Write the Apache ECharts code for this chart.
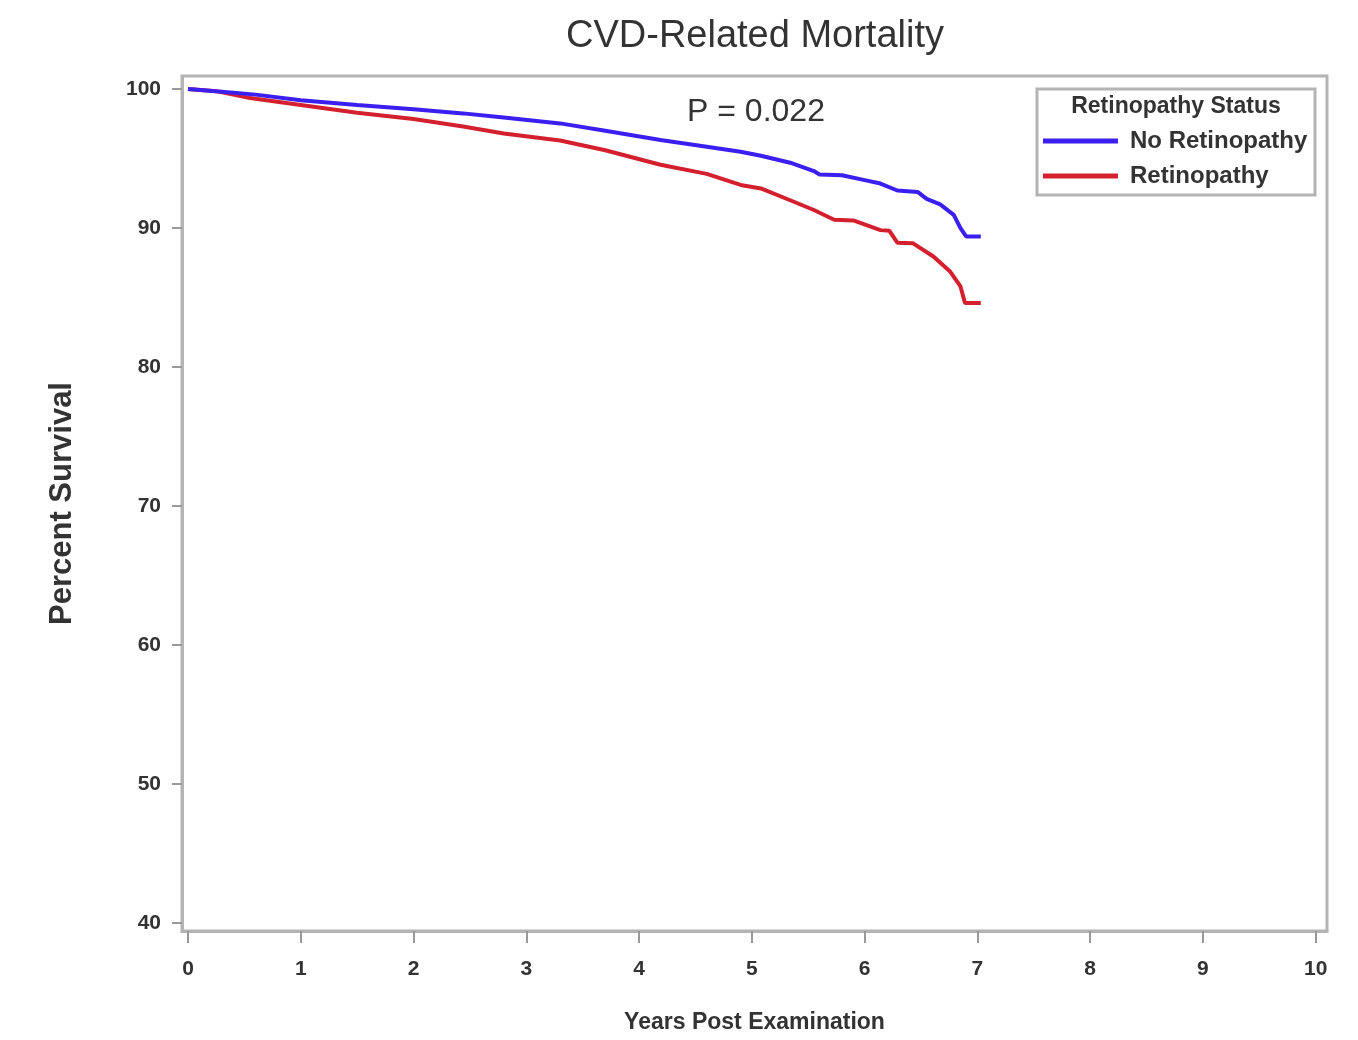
<!DOCTYPE html>
<html>
<head>
<meta charset="utf-8">
<title>CVD-Related Mortality</title>
<script src="https://cdn.jsdelivr.net/npm/echarts@6/dist/echarts.min.js"></script>
<style>
  html, body { margin: 0; padding: 0; background: #fff; }
  #chart { width: 1358px; height: 1040px; }
</style>
</head>
<body>
<div id="chart"></div>
<script>
// Kaplan-Meier survival estimates, CVD-related mortality
var xTicks = [0, 1, 2, 3, 4, 5, 6, 7, 8, 9, 10];
var yTicks = [40, 50, 60, 70, 80, 90, 100];

var noRetYears = [0, 0.3, 0.6, 1.0, 1.5, 2.0, 2.44, 2.8, 3.3, 3.7, 4.19, 4.6, 4.9, 5.08, 5.34, 5.55, 5.6, 5.8, 6.0, 6.14, 6.29, 6.47, 6.55, 6.67, 6.79, 6.85, 6.9, 7.03];
var noRetSurv  = [100, 99.8, 99.6, 99.2, 98.85, 98.55, 98.25, 97.95, 97.53, 97.0, 96.33, 95.85, 95.49, 95.2, 94.7, 94.1, 93.85, 93.8, 93.45, 93.2, 92.7, 92.6, 92.1, 91.7, 90.95, 90.0, 89.4, 89.4];

var retYears = [0, 0.25, 0.55, 1.0, 1.5, 2.0, 2.44, 2.8, 3.3, 3.7, 4.19, 4.6, 4.9, 5.08, 5.34, 5.55, 5.73, 5.9, 6.14, 6.22, 6.29, 6.43, 6.61, 6.76, 6.85, 6.89, 7.03];
var retSurv  = [100, 99.85, 99.35, 98.85, 98.3, 97.85, 97.3, 96.8, 96.3, 95.6, 94.55, 93.9, 93.1, 92.85, 92.0, 91.3, 90.6, 90.55, 89.85, 89.8, 88.95, 88.9, 87.95, 86.85, 85.8, 84.6, 84.6];

var pValueText = 'P = 0.022';

function pairs(xs, ys) {
  return xs.map(function (x, i) { return [x, ys[i]]; });
}

var FONT = '"Liberation Sans", Arial, sans-serif';
var FRAME = '#b4b4b4';
var TEXT = '#333';

var chart = echarts.init(document.getElementById('chart'));
chart.setOption({
  animation: false,
  backgroundColor: '#fff',
  graphic: [
    {
      type: 'text', z: 10,
      x: 755, y: 37,
      style: {
        text: 'CVD-Related Mortality', align: 'center', verticalAlign: 'middle',
        font: '38px ' + FONT, fill: TEXT
      }
    },
    {
      type: 'rect', z: 10,
      shape: { x: 1037, y: 89, width: 278, height: 106 },
      style: { fill: 'none', stroke: FRAME, lineWidth: 3 }
    },
    {
      type: 'text', z: 10,
      x: 1176, y: 107,
      style: {
        text: 'Retinopathy Status', align: 'center', verticalAlign: 'middle',
        font: 'bold 23px ' + FONT, fill: TEXT
      }
    },
    {
      type: 'text', z: 10,
      x: 756, y: 112,
      style: {
        text: pValueText, align: 'center', verticalAlign: 'middle',
        font: '32px ' + FONT, fill: TEXT
      }
    }
  ],
  grid: {
    left: 182, top: 76, right: 31, bottom: 109,
    show: true, borderColor: FRAME, borderWidth: 3, backgroundColor: '#fff'
  },
  xAxis: {
    type: 'value',
    min: -0.053, max: 10.1,
    name: 'Years Post Examination',
    nameLocation: 'middle',
    nameGap: 80,
    nameTextStyle: { fontFamily: FONT, fontSize: 23, fontWeight: 'bold', color: TEXT },
    axisLine: { show: true, onZero: false, lineStyle: { color: FRAME, width: 3 } },
    axisTick: { show: true, length: 12, customValues: xTicks, lineStyle: { color: '#999', width: 2 } },
    axisLabel: { customValues: xTicks, margin: 28, fontFamily: FONT, fontSize: 21, fontWeight: 'bold', color: TEXT },
    splitLine: { show: false }
  },
  yAxis: {
    type: 'value',
    min: 39.42, max: 100.94,
    name: 'Percent Survival',
    nameLocation: 'middle',
    nameGap: 104,
    nameTextStyle: { fontFamily: FONT, fontSize: 31, fontWeight: 'bold', color: TEXT },
    axisLine: { show: true, onZero: false, lineStyle: { color: FRAME, width: 3 } },
    axisTick: { show: true, length: 10, customValues: yTicks, lineStyle: { color: '#999', width: 2 } },
    axisLabel: { customValues: yTicks, margin: 21, fontFamily: FONT, fontSize: 21, fontWeight: 'bold', color: TEXT },
    splitLine: { show: false }
  },
  legend: {
    orient: 'vertical',
    left: 1043, top: 129,
    icon: 'rect',
    itemWidth: 75, itemHeight: 5,
    itemGap: 11,
    padding: 0,
    textStyle: { fontFamily: FONT, fontSize: 24, fontWeight: 'bold', color: TEXT, lineHeight: 24, padding: [0, 0, 0, 7] },
    data: ['No Retinopathy', 'Retinopathy']
  },
  series: [
    {
      name: 'No Retinopathy',
      type: 'line',
      data: pairs(noRetYears, noRetSurv),
      showSymbol: false,
      lineStyle: { color: '#3b1ff0', width: 4 },
      itemStyle: { color: '#3b1ff0' },
      z: 3
    },
    {
      name: 'Retinopathy',
      type: 'line',
      data: pairs(retYears, retSurv),
      showSymbol: false,
      lineStyle: { color: '#d4202e', width: 4 },
      itemStyle: { color: '#d4202e' },
      z: 2
    }
  ]
});
</script>
</body>
</html>
